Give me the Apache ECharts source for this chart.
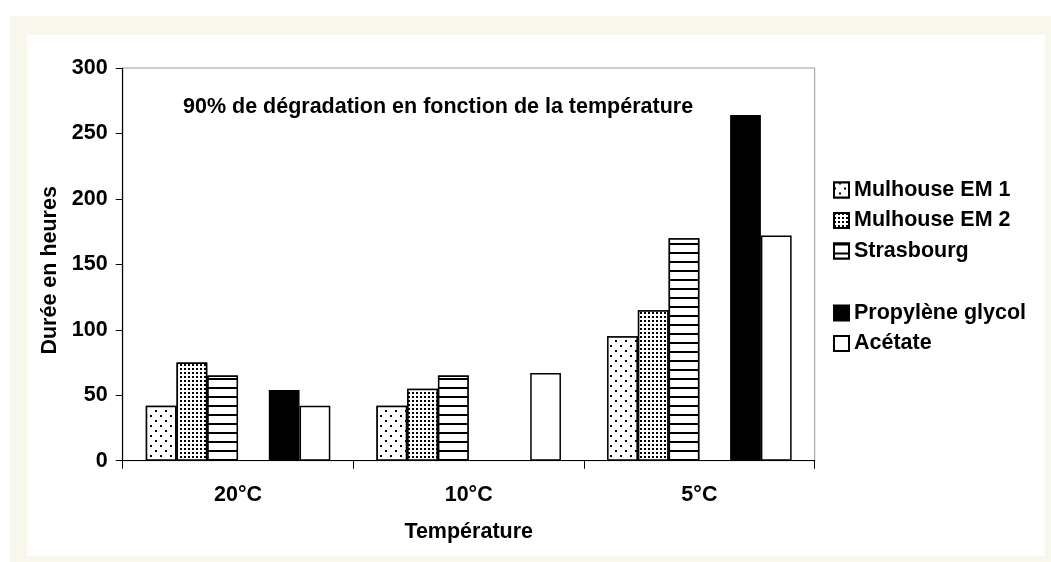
<!DOCTYPE html>
<html>
<head>
<meta charset="utf-8">
<script src="https://cdn.jsdelivr.net/npm/echarts@6/dist/echarts.min.js"></script>
<style>
html,body{margin:0;padding:0;background:#ffffff;width:1051px;height:562px;overflow:hidden;}
#frame{position:absolute;left:10px;top:16px;width:1041px;height:546px;background:#f7f7ec;}
#panel{position:absolute;left:27px;top:35px;width:1018px;height:521px;background:#ffffff;}
#chart{position:absolute;left:0;top:0;width:1051px;height:562px;}
</style>
</head>
<body>
<div id="frame"></div>
<div id="panel"></div>
<div id="chart"></div>
<script>
const categories = ['20°C', '10°C', '5°C'];
const mulhouseEM1 = [42, 42, 95];
const mulhouseEM2 = [75, 55, 115];
const strasbourg = [65, 65, 170];
const propyleneGlycol = [54, null, 264];
const acetate = [42, 67, 172];
const yTicks = [0, 50, 100, 150, 200, 250, 300];

const FONT = '"Liberation Sans", Arial, sans-serif';
const FS = 21.5;
const chart = echarts.init(document.getElementById('chart'), null, {renderer: 'canvas'});

const border = {borderColor: '#000', borderWidth: 1.5};
const legendText = {fontFamily: FONT, fontWeight: 'bold', fontSize: FS, color: '#000', lineHeight: 22};

chart.setOption({
  backgroundColor: 'transparent',
  animation: false,
  title: {
    text: '90% de dégradation en fonction de la température',
    left: 178, top: 91,
    textStyle: {fontFamily: FONT, fontWeight: 'bold', fontSize: FS, color: '#000'}
  },
  legend: [
    {
      data: ['Mulhouse EM 1', 'Mulhouse EM 2', 'Strasbourg'],
      orient: 'vertical', left: 828, top: 174,
      icon: 'rect', itemWidth: 15, itemHeight: 15, itemGap: 8.5,
      textStyle: legendText,
      selectedMode: false
    },
    {
      data: ['Propylène glycol', 'Acétate'],
      orient: 'vertical', left: 828, top: 297,
      icon: 'rect', itemWidth: 15, itemHeight: 15, itemGap: 8.5,
      textStyle: legendText,
      selectedMode: false
    }
  ],
  grid: {
    left: 122.7, right: 236.3, top: 68, bottom: 101.3,
    show: true, backgroundColor: '#fff', borderColor: '#999', borderWidth: 1
  },
  xAxis: {
    type: 'category',
    data: categories,
    name: 'Température',
    nameLocation: 'middle',
    nameGap: 60,
    nameTextStyle: {fontFamily: FONT, fontWeight: 'bold', fontSize: FS, color: '#000'},
    axisLine: {lineStyle: {color: '#000', width: 1.2}},
    axisTick: {show: true, length: 8, lineStyle: {color: '#000'}},
    axisLabel: {fontFamily: FONT, fontWeight: 'bold', fontSize: FS, color: '#000', margin: 23}
  },
  yAxis: {
    type: 'value',
    min: yTicks[0], max: yTicks[yTicks.length - 1], interval: yTicks[1] - yTicks[0],
    name: 'Durée en heures',
    nameLocation: 'middle',
    nameGap: 62,
    nameTextStyle: {fontFamily: FONT, fontWeight: 'bold', fontSize: FS, color: '#000', padding: [0, 12, 0, 0]},
    axisLine: {show: true, lineStyle: {color: '#000', width: 1.2}},
    axisTick: {show: true, length: 7, lineStyle: {color: '#000'}},
    axisLabel: {fontFamily: FONT, fontWeight: 'bold', fontSize: FS, color: '#000', margin: 15},
    splitLine: {show: false}
  },
  series: [
    {
      name: 'Mulhouse EM 1', type: 'bar', data: mulhouseEM1,
      barGap: '0%', barCategoryGap: '20%',
      itemStyle: Object.assign({color: '#fff', decal: {
        symbol: 'rect', symbolSize: 1, color: '#000', backgroundColor: '#fff',
        dashArrayX: [[1.5, 7.5], [0, 4.5, 1.5, 3]], dashArrayY: [1.5, 2.3]
      }}, border)
    },
    {
      name: 'Mulhouse EM 2', type: 'bar', data: mulhouseEM2,
      itemStyle: Object.assign({color: '#fff', decal: {
        symbol: 'rect', symbolSize: 1, color: '#000', backgroundColor: '#fff',
        dashArrayX: [1.5, 1.6], dashArrayY: [1.5, 1.6]
      }}, border)
    },
    {
      name: 'Strasbourg', type: 'bar', data: strasbourg,
      itemStyle: Object.assign({color: '#fff', decal: {
        symbol: 'rect', symbolSize: 1, color: '#000', backgroundColor: '#fff',
        dashArrayX: [1, 0], dashArrayY: [2, 6.5]
      }}, border)
    },
    {
      name: '', type: 'bar', data: [null, null, null]
    },
    {
      name: 'Propylène glycol', type: 'bar', data: propyleneGlycol,
      itemStyle: Object.assign({color: '#000'}, border)
    },
    {
      name: 'Acétate', type: 'bar', data: acetate,
      itemStyle: Object.assign({color: '#fff'}, border)
    }
  ]
});
</script>
</body>
</html>
